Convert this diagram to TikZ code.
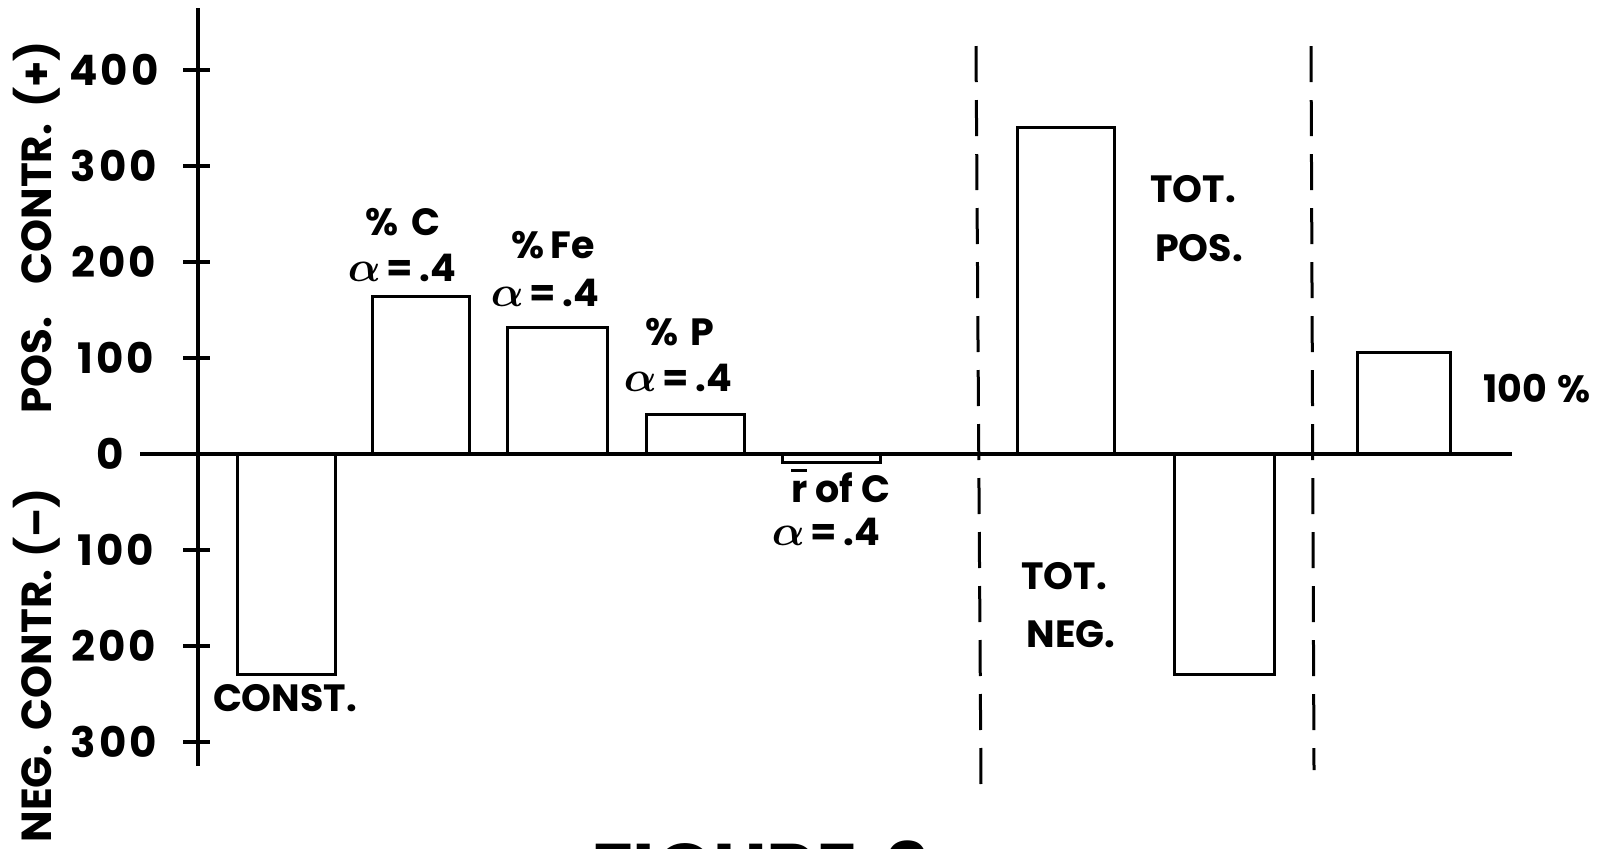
\documentclass[tikz,border=0pt]{standalone}
\usepackage{amsmath}
\usepackage{graphicx}
\usepackage{fontspec}
\setmainfont{Poppins}
\newcommand\barr{\leavevmode\rlap{\rule[0.78em]{0.42em}{0.09em}}r}
\newcommand\alf{\scalebox{1.25}{$\boldsymbol{\alpha}$}}
\tikzset{
  axisline/.style={line width=2pt},
  tickline/.style={line width=2pt},
  barbox/.style={line width=1.5pt},
  divider/.style={line width=1.5pt, dash pattern=on 18pt off 9pt},
  lbl/.style={font=\bfseries\fontsize{19}{22}\selectfont, inner sep=0pt, anchor=base},
  ticklbl/.style={font=\bfseries\fontsize{21}{24}\selectfont\addfontfeatures{LetterSpace=7}, inner sep=0pt, anchor=center},
  sidelbl/.style={font=\bfseries\fontsize{21}{24}\selectfont, inner sep=0pt, rotate=90, anchor=base east},
  titlelbl/.style={font=\bfseries\fontsize{38}{44}\selectfont, inner sep=0pt, anchor=base},
}
\begin{document}
\begin{tikzpicture}[x=0.5pt,y=-0.5pt]
\useasboundingbox (0,0) rectangle (1605,848);
\clip (0,0) rectangle (1605,848);
% bars
\draw[barbox] (237,454) rectangle (335,674);
\draw[barbox] (372,454) rectangle (469,296);
\draw[barbox] (507,454) rectangle (607,327);
\draw[barbox] (646,454) rectangle (744,414);
\draw[barbox] (782,454) rectangle (880,462);
\draw[barbox] (1017,454) rectangle (1114,127);
\draw[barbox] (1174,454) rectangle (1274,674);
\draw[barbox] (1357,454) rectangle (1450,352);
% axes
\draw[axisline] (198,8) -- (198,766);
\draw[axisline] (140,454) -- (1512,454);
\foreach \yy in {70,166,262,358,550,646,742}
  \draw[tickline] (183,\yy) -- (210,\yy);
% dividers
\draw[divider] (976,46) -- (981,786);
\draw[divider] (1311,46) -- (1314,770);
% tick labels
\node[ticklbl] (t400) at (114,70) {400};
\node[ticklbl] (t300) at (114,166) {300};
\node[ticklbl] (t200) at (114,262) {200};
\node[ticklbl] (t100) at (116,358) {100};
\node[ticklbl] (t0) at (110,454) {0};
\node[ticklbl] (tm100) at (116,550) {100};
\node[ticklbl] (tm200) at (114,646) {200};
\node[ticklbl] (tm300) at (114,742) {300};
% side labels
\node[sidelbl] (poslbl) at (51,41) {POS.\hspace{16pt}CONTR.\hspace{8pt}(+)};
\node[sidelbl] (neglbl) at (51,488) {NEG.\hspace{7pt}CONTR.\hspace{6pt}(--)};
% bar labels
\node[lbl] (lconst) at (285,711) {CONST.};
\node[lbl] (lc) at (403,235) {\%\hspace{6pt}C};
\node[lbl] (lca) at (402,281) {\alf\,=\,.4};
\node[lbl] (lfe) at (553,258) {\%\,Fe};
\node[lbl] (lfea) at (545,306) {\alf\,=\,.4};
\node[lbl] (lp) at (680,345) {\%\hspace{6pt}P};
\node[lbl] (lpa) at (678,391) {\alf\,=\,.4};
\node[lbl] (lr) at (841,502) {\barr\ of C};
\node[lbl] (lra) at (826,545) {\alf\,=\,.4};
\node[lbl] (ltp1) at (1193,202) {TOT.};
\node[lbl] (ltp2) at (1199,261) {POS.};
\node[lbl] (ltn1) at (1064,589) {TOT.};
\node[lbl] (ltn2) at (1071,647) {NEG.};
\node[lbl] (l100) at (1537,402) {100\hspace{5pt}\%};
% title (cut off at the bottom edge)
\node[titlelbl] (title) at (760,897) {FIGURE\hspace{14pt}2};
\end{tikzpicture}
\end{document}
